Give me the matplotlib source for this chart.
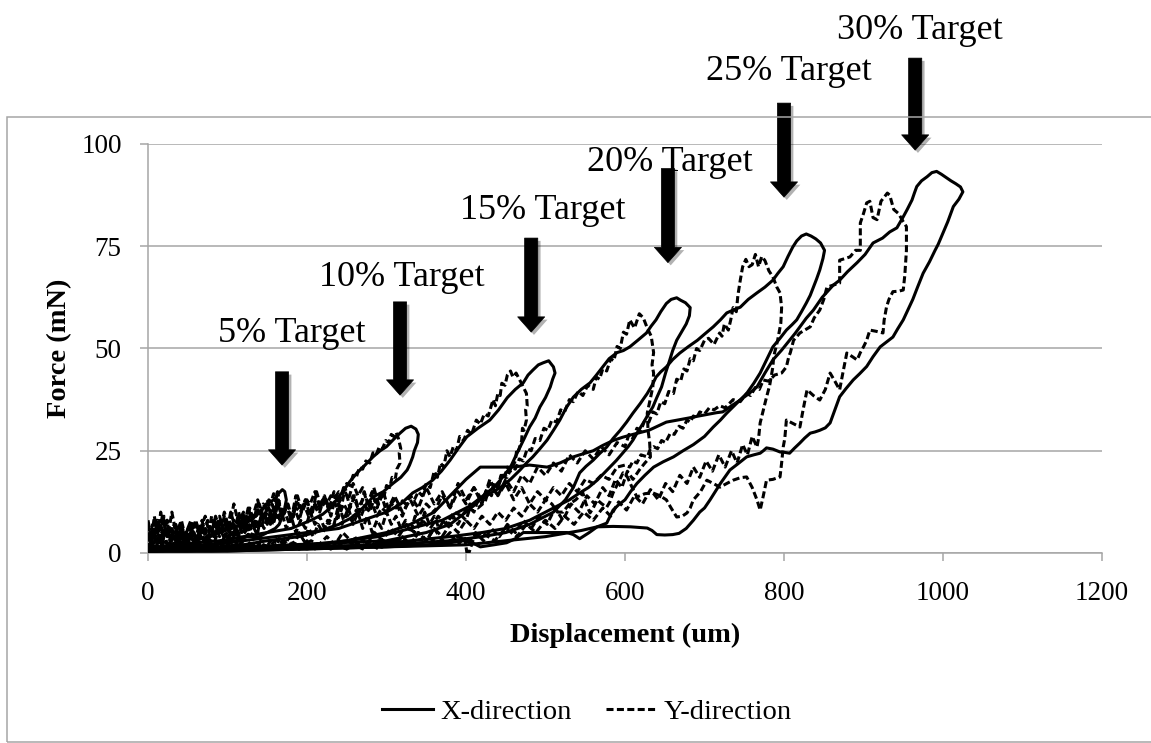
import matplotlib
matplotlib.use("Agg")
import matplotlib.pyplot as plt
import matplotlib.patheffects as pe
from matplotlib.patches import Rectangle

plt.rcParams['font.family'] = ['Liberation Serif', 'DejaVu Serif']

# ---- Force-displacement loops (displacement in um, force in mN) ----
x05_loop = [(0, 2), (15, 3), (30, 2), (45, 4), (60, 3), (75, 4), (90, 5), (105, 6), (118, 7), (130, 8),
            (140, 10), (150, 12), (158, 13), (164, 14.5), (169, 15.5), (172, 15), (174, 13), (172, 11),
            (169, 9), (165, 7), (160, 6), (150, 5), (140, 4), (125, 4), (110, 3), (95, 3), (80, 2),
            (60, 2), (40, 1.5), (20, 1), (0, 1)]

y05_loop = [(0, 7), (4, 3), (8, 9), (12, 4), (16, 10), (20, 5), (24, 8), (28, 3), (33, 7), (38, 2),
            (43, 6), (48, 3), (53, 7), (58, 2), (63, 5), (68, 8), (73, 3), (78, 6), (83, 4), (88, 7),
            (93, 5), (98, 8), (103, 4), (108, 7), (113, 5), (118, 9), (123, 6), (128, 9), (133, 7),
            (137, 11), (141, 9), (145, 12), (149, 11), (152, 13), (155, 12.5), (158, 14.5), (161, 14),
            (163, 15), (165, 13), (164, 11), (162, 12), (160, 9), (157, 10), (154, 7), (150, 9),
            (146, 6), (141, 8), (136, 5), (131, 7), (126, 4), (121, 6), (116, 3), (110, 5), (104, 2),
            (98, 5), (92, 2), (86, 4), (80, 1), (74, 3), (68, 1), (62, 3), (56, 1), (50, 3), (44, 1),
            (38, 3), (32, 1), (26, 2), (20, 1), (14, 3), (8, 1), (4, 2), (0, 1)]

x10_loop = [(0, 1), (30, 2), (60, 2.5), (90, 3), (120, 4), (150, 5), (180, 6), (205, 8), (220, 9.5),
            (229, 11), (237, 13), (245, 15), (254, 17.5), (263, 19.6), (273, 21.5), (283, 23.5),
            (292, 25), (300, 26), (309, 27.8), (317, 29.3), (324, 30.5), (331, 31), (337, 30.3),
            (340, 29), (339, 27), (335, 25), (333, 23.5), (329, 21.5), (326, 20.3), (318, 18.5),
            (308, 17), (296, 15), (283, 13.7), (270, 11), (255, 8.5), (240, 7), (225, 6), (210, 5),
            (190, 4), (170, 3.5), (150, 3), (120, 2), (90, 1.5), (60, 1), (30, 1), (0, 0.5)]

y10_loop = [(0, 5), (5, 2), (10, 8), (15, 3), (20, 6), (25, 1), (30, 4), (35, 7), (40, 3), (45, 5),
            (50, 2), (55, 6), (60, 4), (65, 7), (70, 3), (75, 8), (80, 5), (85, 9), (90, 6), (95, 4),
            (100, 7), (106, 3), (112, 8), (118, 5), (124, 9), (130, 4), (136, 8), (142, 6), (148, 10),
            (154, 7), (160, 11), (166, 8), (172, 10), (178, 7), (184, 11), (190, 8), (196, 12),
            (202, 9), (208, 12), (214, 10), (220, 13), (225, 12), (230, 14), (235, 13.5), (240, 15),
            (245, 14.5), (250, 17), (254, 16.5), (258, 19), (262, 18.5), (266, 21), (270, 20.5),
            (274, 22.5), (279, 22), (283, 24.5), (287, 24), (291, 26), (295, 25.5), (299, 27.5),
            (303, 27), (306, 29), (309, 28.5), (312, 29.5), (315, 28), (318, 25.5), (316, 24.5),
            (317, 22), (313, 20.5), (311, 18), (307, 18.5), (304, 16), (300, 16.5), (297, 14),
            (293, 15), (289, 12), (284, 13), (279, 10), (273, 11.5), (268, 9), (262, 10.5), (256, 8),
            (250, 9.5), (244, 7), (238, 9), (232, 6), (226, 8), (220, 5), (214, 7), (208, 4),
            (202, 6), (196, 3), (190, 5), (184, 2), (178, 4), (172, 2), (166, 4), (160, 1), (154, 3),
            (148, 1), (142, 3), (136, 1), (130, 3), (122, 1), (114, 3), (106, 1), (98, 3), (90, 1),
            (82, 3), (74, 1), (66, 2), (58, 1), (50, 3), (42, 1), (34, 2), (26, 1), (18, 2), (10, 1),
            (0, 0.5)]

x15_loop = [(0, 1), (40, 1.5), (80, 2), (120, 3), (160, 4), (200, 5), (240, 6), (270, 8), (300, 10),
            (318, 12), (333, 14.7), (345, 16), (358, 17.8), (369, 20), (380, 22.7), (390, 25.5),
            (401, 28.4), (415, 30.5), (430, 32.5), (441, 35), (452, 38), (462, 40), (472, 41.6),
            (478, 43.5), (484, 44.7), (491, 46), (497, 46.5), (504, 47), (510, 45.5), (512, 44),
            (509, 42.5), (506, 40.6), (500, 38), (493, 35.7), (487, 33), (480, 30.8), (474, 28.3),
            (468, 25.9), (462, 23.5), (456, 21), (450, 19.5), (443, 17.8), (435, 16), (426, 14.7),
            (415, 13), (405, 11.5), (390, 10), (370, 8), (350, 7), (320, 5.5), (290, 4), (250, 3),
            (200, 2), (150, 1.5), (100, 1), (50, 0.5), (0, 0.5)]

y15_loop = [(0, 4), (6, 1), (12, 6), (18, 2), (24, 8), (30, 3), (36, 6), (42, 2), (48, 5), (54, 8),
            (60, 3), (66, 6), (72, 2), (78, 7), (84, 4), (90, 9), (96, 5), (102, 8), (108, 4),
            (114, 10), (120, 6), (126, 11), (132, 7), (138, 12), (144, 8), (150, 13), (156, 9),
            (162, 14), (168, 10), (174, 12), (180, 9), (186, 11), (192, 10), (198, 13), (204, 12),
            (210, 15), (216, 11), (222, 14), (228, 10), (234, 13), (240, 9), (246, 12), (252, 10),
            (258, 14), (264, 11), (270, 13), (276, 10), (282, 12), (288, 9), (294, 11), (300, 10),
            (306, 12), (312, 11), (318, 13), (324, 12), (330, 14), (335, 13), (340, 15), (345, 14),
            (350, 17), (355, 16), (360, 20), (364, 18.5), (368, 22), (372, 21), (376, 25),
            (380, 23.5), (384, 26), (388, 25), (392, 28.5), (397, 27.5), (402, 30), (407, 29),
            (413, 32.5), (418, 31.5), (423, 34), (428, 33.5), (434, 37.5), (437, 36), (440, 39),
            (443, 38.5), (445, 41.5), (449, 41), (452, 43.5), (456, 44.5), (459, 43), (463, 44),
            (467, 42.5), (471, 41), (476, 39), (477, 36), (475, 35), (476, 32.5), (473, 30),
            (471, 30.5), (470, 27.5), (466, 25), (464, 25.5), (462, 22.5), (456, 20), (452, 21),
            (448, 18), (444, 19), (440, 16), (436, 17), (432, 14), (428, 15), (424, 12.5), (415, 11),
            (405, 12), (395, 9), (385, 10), (375, 7), (365, 9), (355, 6), (345, 8), (335, 5),
            (325, 7), (315, 4), (305, 6), (295, 3), (285, 5), (275, 2), (265, 4), (255, 3),
            (245, 5), (235, 2), (225, 4), (215, 2), (205, 3), (190, 1), (175, 3), (160, 1), (145, 2),
            (130, 1), (115, 2), (100, 1), (80, 2), (60, 1), (40, 2), (20, 1), (0, 1)]

x20_loop = [(0, 0.5), (60, 1), (120, 1.5), (180, 2), (240, 2.5), (300, 3), (350, 5), (380, 7),
            (400, 10), (418, 13), (430, 14.5), (443, 16), (456, 18), (468, 20.3), (476, 22),
            (484, 23.5), (493, 25.5), (502, 27.6), (510, 30), (518, 32.5), (526, 35.5), (535, 38.1),
            (545, 40), (556, 41.6), (564, 43.5), (572, 45.5), (580, 47.5), (590, 49), (598, 49.5),
            (606, 50.4), (616, 52), (627, 53.8), (633, 55.5), (639, 57), (645, 59), (652, 61),
            (658, 62), (665, 62.4), (670, 61.8), (676, 61.2), (682, 60), (681, 58), (677, 56),
            (671, 54), (665, 52), (660, 49.5), (656, 47), (651, 44), (646, 40.6), (640, 38),
            (635, 35.7), (629, 33.8), (623, 31.8), (616, 29.6), (610, 27.6), (604, 26), (597, 24.4),
            (589, 22.6), (581, 21), (573, 19.4), (565, 17.8), (554, 16), (543, 14.7), (530, 13),
            (520, 12), (500, 10), (480, 8), (450, 6), (420, 5), (380, 4), (330, 3), (280, 2),
            (220, 1.5), (150, 1), (80, 0.5), (0, 0.5)]

y20_loop = [(0, 3), (6, 7), (12, 2), (18, 9), (24, 4), (30, 6), (36, 2), (42, 7), (48, 3), (54, 5),
            (60, 8), (66, 4), (72, 6), (78, 3), (84, 7), (90, 4), (96, 9), (102, 5), (108, 8),
            (114, 4), (120, 10), (126, 6), (132, 9), (138, 5), (144, 11), (150, 7), (156, 12),
            (162, 8), (168, 10), (174, 6), (180, 9), (186, 5), (192, 8), (198, 6), (204, 10),
            (210, 7), (216, 9), (222, 6), (228, 8), (234, 7), (240, 12), (246, 8), (252, 11),
            (258, 7), (264, 10), (270, 6), (276, 9), (282, 5), (288, 8), (294, 6), (300, 10),
            (306, 7), (312, 9), (318, 6), (324, 8), (330, 5), (336, 9), (342, 6), (348, 10), (354, 7),
            (360, 9), (366, 6), (372, 8), (378, 7), (384, 9), (390, 7), (395, 9), (400, 8),
            (405, 11), (410, 10), (415, 13), (420, 12.5), (425, 15), (430, 14.5), (436, 17),
            (441, 16.5), (446, 19), (452, 18.5), (457, 21), (462, 20.5), (467, 23), (472, 22.5),
            (477, 25.5), (482, 25), (487, 28), (493, 27.5), (498, 30.5), (503, 30), (508, 32.5),
            (514, 32), (519, 35), (524, 34.5), (530, 37.5), (535, 37), (541, 39.5), (547, 38.5),
            (553, 41), (560, 40), (564, 43), (568, 42.5), (572, 45), (577, 44.5), (582, 47.5),
            (586, 47), (590, 50.5), (594, 50), (598, 54), (602, 53.5), (606, 57), (612, 55),
            (618, 58.5), (623, 57.5), (628, 55), (633, 53), (636, 49), (634, 46), (636, 44),
            (635, 40.6), (631, 37), (628, 34.2), (629, 30), (631, 27), (632, 23.5), (625, 22),
            (618, 20.3), (610, 18), (603, 20), (596, 16), (588, 18), (580, 14), (572, 16), (562, 12),
            (552, 14), (542, 10), (532, 12), (522, 8), (512, 11), (502, 7), (492, 9), (482, 6),
            (472, 8), (462, 5), (452, 7), (442, 4), (432, 6), (422, 3), (412, 5), (402, -1),
            (398, 4), (390, 2), (380, 5), (370, 3), (360, 6), (350, 3), (340, 5), (330, 2), (320, 4),
            (305, 2), (290, 3), (270, 1), (250, 3), (230, 1), (210, 2), (190, 1), (170, 3), (150, 1),
            (120, 2), (90, 1), (60, 2), (30, 1), (0, 2)]

x25_loop = [(0, 0.5), (100, 1), (200, 1.5), (300, 2), (380, 3), (420, 4), (450, 5), (480, 7),
            (510, 10), (525, 13), (535, 16), (543, 19.6), (551, 21.2), (560, 22.7), (568, 24.3),
            (577, 25.9), (585, 28), (594, 30), (602, 32), (610, 34.2), (619, 36.5), (628, 39),
            (634, 41), (639, 43), (645, 44.3), (652, 45.5), (660, 47.3), (669, 48.9), (680, 50.5),
            (691, 52), (700, 53.5), (711, 55.3), (720, 57), (728, 58.7), (736, 59.4), (745, 60.1),
            (755, 62), (766, 63.6), (776, 65), (786, 66.7), (792, 68.3), (799, 70), (805, 72.5),
            (811, 74.8), (816, 76.3), (822, 77.5), (828, 78), (834, 77.5), (840, 76.8), (846, 75.8),
            (851, 74), (849, 72), (845, 69.2), (841, 67), (837, 65), (833, 63), (828, 61.1),
            (822, 59), (816, 57), (810, 55.8), (803, 54.5), (795, 52.5), (786, 50.4), (778, 47.2),
            (770, 44), (762, 41.5), (753, 39), (740, 36.5), (728, 34.2), (720, 32.5), (711, 30.8),
            (700, 28.5), (686, 26.5), (673, 25), (661, 23.5), (648, 22.3), (636, 21), (625, 19),
            (615, 17), (607, 15), (600, 13), (592, 11.8), (585, 10.5), (577, 7.3), (565, 6.4),
            (545, 5.5), (530, 5), (500, 4), (450, 3), (400, 2), (300, 1.5), (200, 1), (100, 0.5),
            (0, 0.5)]

y25_loop = [(0, 5), (6, 2), (12, 8), (18, 3), (24, 6), (30, 1), (36, 5), (42, 8), (48, 3), (54, 7),
            (60, 2), (66, 6), (72, 9), (78, 4), (84, 8), (90, 5), (96, 10), (102, 6), (108, 12),
            (114, 7), (120, 10), (126, 5), (132, 9), (138, 13), (144, 8), (150, 11), (156, 7),
            (162, 13), (168, 9), (174, 12), (180, 8), (186, 14), (192, 10), (198, 13), (204, 9),
            (210, 12), (216, 10), (222, 14), (228, 11), (234, 15), (240, 12), (246, 16), (252, 13),
            (258, 17), (264, 14), (270, 16), (276, 12), (282, 15), (288, 11), (294, 14), (300, 10),
            (310, 14), (320, 10), (330, 13), (340, 9), (350, 12), (360, 10), (370, 14), (380, 11),
            (390, 15), (400, 12), (410, 16), (420, 13), (430, 17), (440, 14), (450, 18), (460, 15),
            (470, 19), (480, 17), (490, 21), (500, 19), (510, 22), (520, 20), (530, 24), (540, 22),
            (550, 25), (560, 23), (570, 26), (580, 24), (590, 27), (600, 26), (605, 29), (610, 28),
            (615, 30.5), (620, 30), (625, 32.5), (630, 32), (635, 34.5), (640, 34), (645, 37),
            (650, 36.5), (655, 39.5), (661, 39), (665, 42.5), (670, 42), (674, 45), (678, 44.5),
            (682, 47.5), (686, 47), (690, 50), (694, 49.5), (700, 52), (705, 52.5), (712, 51),
            (719, 53.8), (722, 53), (725, 56), (730, 54.5), (733, 57), (736, 60), (740, 59),
            (742, 63), (745, 66.7), (748, 70), (752, 71.8), (756, 70), (760, 70.5), (764, 73),
            (768, 70), (772, 72.5), (776, 71.5), (781, 69), (786, 67.5), (791, 65), (795, 63.6),
            (797, 60), (796, 56.2), (792, 52), (787, 48), (786, 45.5), (782, 41), (778, 38.1),
            (774, 35), (770, 31.8), (768, 28), (766, 25.9), (760, 28.5), (754, 24), (748, 26.5),
            (741, 22), (734, 25), (726, 21), (718, 24), (710, 20), (702, 22.5), (694, 18.5),
            (686, 21), (678, 17), (669, 19), (660, 15), (651, 17), (642, 13), (632, 15.5), (622, 12),
            (612, 14), (602, 10.5), (592, 12.5), (582, 9), (572, 11), (560, 8), (548, 10), (536, 7),
            (524, 9), (512, 6), (500, 8), (488, 5), (476, 7), (464, 4), (450, 6), (436, 3), (420, 5),
            (405, 3), (390, 4), (370, 2), (350, 4), (330, 2), (310, 3), (290, 1), (270, 3), (250, 1),
            (230, 2), (200, 1), (170, 2), (140, 1), (110, 2), (80, 1), (50, 2), (20, 1), (0, 1)]

x30_loop = [(0, 0.5), (100, 1), (200, 1.5), (250, 3), (300, 5), (330, 7), (360, 10), (380, 14),
            (400, 18), (418, 21), (440, 21), (459, 21), (480, 21.5), (502, 21), (518, 22),
            (535, 23.5), (548, 24.3), (560, 25), (572, 26.3), (585, 27.5), (597, 28.3), (610, 29),
            (620, 29.5), (630, 30), (641, 31), (652, 32), (666, 32.5), (680, 33), (693, 33.5),
            (707, 34), (715, 34.3), (723, 34.5), (734, 36), (745, 37.4), (756, 39), (766, 40.6),
            (776, 44), (786, 47.2), (797, 49.6), (807, 52), (814, 53.7), (820, 55.3), (828, 57.4),
            (837, 59.4), (848, 62.5), (856, 64.2), (862, 65.5), (870, 66.7), (880, 68.8), (892, 71),
            (902, 73), (912, 75.8), (924, 77), (933, 78.5), (942, 79.5), (950, 82.2), (955, 84),
            (961, 86.3), (964, 88), (967, 89.6), (973, 91), (980, 92), (986, 93), (992, 93.3),
            (998, 92.6), (1004, 91.8), (1010, 91), (1016, 90.3), (1022, 89.5), (1025, 88.3),
            (1020, 86.5), (1013, 84.7), (1006, 81), (998, 77.3), (994, 75.5), (990, 74),
            (983, 71.2), (975, 68.4), (968, 65), (962, 62), (956, 59.5), (950, 57), (943, 54.8),
            (937, 52.8), (929, 51.6), (921, 50.4), (912, 48), (904, 45.6), (895, 43.8), (887, 42.3),
            (878, 40.2), (870, 38.2), (864, 35), (858, 31.8), (852, 30.6), (845, 30), (839, 29.6),
            (833, 29.3), (826, 28.1), (820, 26.9), (813, 25.6), (807, 24.4), (801, 24.6), (795, 24.7),
            (786, 25.4), (778, 25.7), (774, 25), (770, 24.4), (762, 24), (753, 23.5), (742, 21.8),
            (732, 20.3), (720, 17), (707, 13), (700, 11), (694, 10), (686, 8), (677, 6), (668, 4.8),
            (660, 4.5), (650, 4.4), (640, 4.5), (634, 5.5), (628, 6.1), (607, 6.4), (585, 6.5),
            (565, 6.4), (555, 5), (543, 3.5), (535, 4.5), (527, 5), (500, 5), (472, 5), (462, 3.5),
            (451, 2.5), (435, 2), (418, 1.5), (408, 2.5), (397, 3), (380, 2.5), (350, 2), (300, 1.5),
            (200, 1), (100, 0.5), (0, 0.5)]

y30_loop = [(0, 8), (5, 3), (10, 6), (15, 2), (20, 9), (25, 4), (30, 10), (35, 5), (40, 7), (45, 2),
            (50, 6), (55, 3), (60, 8), (65, 4), (70, 7), (75, 3), (80, 9), (86, 5), (92, 8), (98, 4),
            (104, 10), (110, 6), (116, 9), (122, 5), (128, 11), (134, 7), (140, 12), (146, 8),
            (152, 11), (158, 7), (164, 13), (170, 9), (176, 12), (182, 8), (188, 14), (194, 10),
            (200, 13), (206, 9), (212, 15), (218, 11), (224, 13), (230, 9), (236, 14), (242, 10),
            (248, 16), (254, 11), (260, 14), (266, 10), (272, 15), (278, 11), (284, 16), (290, 12),
            (296, 15), (302, 11), (310, 13), (320, 9), (330, 14), (340, 11), (350, 16), (360, 12),
            (370, 15), (380, 11), (390, 17), (400, 13), (410, 16), (420, 12), (430, 18), (440, 14),
            (450, 17), (460, 13), (470, 16), (480, 12), (490, 15), (500, 13), (510, 16), (520, 14),
            (530, 17), (540, 15), (550, 18), (560, 17), (570, 19), (580, 18), (590, 21), (600, 21.5),
            (606, 21), (610, 22.5), (615, 22), (620, 24), (628, 23.5), (632, 25.5), (636, 26),
            (641, 25.5), (646, 27.5), (651, 27), (657, 29.3), (662, 29), (668, 31), (673, 30.5),
            (678, 32.5), (682, 32), (686, 33.5), (690, 33), (694, 34.5), (700, 34), (706, 35.5),
            (712, 35), (719, 36), (726, 35.5), (736, 37.5), (745, 37), (753, 39), (758, 38.5),
            (764, 40.5), (769, 40), (774, 42.3), (781, 42), (788, 43.5), (797, 44), (803, 45.5),
            (806, 48), (808, 49), (812, 52), (820, 53.8), (826, 54.5), (833, 55.3), (838, 57.5),
            (845, 59.4), (850, 62), (854, 65), (862, 65.5), (870, 66), (870, 71.6), (877, 72),
            (883, 72.4), (890, 74), (896, 74), (896, 80.7), (900, 83), (904, 85.6), (908, 86),
            (912, 82), (917, 81.5), (922, 86), (926, 87), (930, 88), (933, 87.5), (938, 84),
            (944, 83), (950, 81), (954, 79.8), (954, 74), (952, 68), (950, 64.3), (944, 64),
            (937, 63.9), (932, 62), (929, 60.2), (926, 57), (924.5, 53.8), (916, 54.2), (908, 54.5),
            (904, 52), (900, 50.4), (896, 49), (892, 47.2), (886, 48), (879, 48.9), (874, 44),
            (870, 39.9), (864, 42), (858, 44), (852, 40), (845, 37.4), (837, 38.5), (829, 39.9),
            (824, 35), (820, 30.8), (812, 31.6), (803, 32.5), (801, 28), (799, 25.9), (797, 22),
            (795, 18.6), (786, 18), (778, 17.8), (774, 14), (770, 10.5), (766, 13), (760, 16),
            (753, 18.6), (745, 18.4), (736, 17.8), (728, 17), (719.5, 16.1), (711, 17), (703, 17.8),
            (695, 15), (686, 13), (682, 11), (678, 9.8), (672, 9), (665, 8.8), (658, 11), (652, 13),
            (644, 14), (635, 14.7), (625, 14.5), (615, 13.7), (609, 16), (603, 18.6), (597.5, 19.6),
            (591, 17), (585, 14.7), (581, 12.5), (577, 11.2), (571, 12), (565, 13), (560, 11),
            (556, 9.8), (551, 12), (547, 14.7), (538, 13), (530, 12), (522, 10), (515, 10), (508, 12),
            (500, 13), (490, 10), (480, 12), (470, 9), (460, 11), (450, 8), (440, 10), (430, 7),
            (420, 9), (410, 6), (400, 8), (390, 5), (380, 7), (370, 4), (360, 6), (350, 3), (340, 5),
            (330, 2), (320, 4), (310, 2), (300, 3), (290, 1), (280, 3), (270, 1), (260, 3), (250, 1),
            (240, 3), (230, 1), (220, 2), (210, 1), (200, 3), (190, 1), (180, 2), (170, 1), (160, 3),
            (150, 1), (140, 2), (130, 1), (120, 3), (110, 1), (100, 2), (90, 1), (80, 3), (70, 1),
            (60, 2), (50, 1), (40, 3), (30, 1), (20, 2), (10, 1), (0, 2)]

x_direction_loops = [x05_loop, x10_loop, x15_loop, x20_loop, x25_loop, x30_loop]
y_direction_loops = [y05_loop, y10_loop, y15_loop, y20_loop, y25_loop, y30_loop]

# ---- Target annotations: label, arrow x, arrow top, arrow tip, label x, label baseline ----
target_labels = ['5% Target', '10% Target', '15% Target', '20% Target', '25% Target', '30% Target']
arrow_x = [168.6, 317, 482, 654, 800, 965]
arrow_top = [44.3, 61.4, 77, 94, 110, 121]
arrow_tip = [21.5, 38.6, 54, 71, 87, 98.5]
label_x = [181, 319.5, 497, 656.6, 806, 971]
label_y = [51.6, 65.3, 81.7, 93.4, 115.6, 125.7]

x_ticks = [0, 200, 400, 600, 800, 1000, 1200]
y_ticks = [0, 25, 50, 75, 100]

W, H = 1151, 743
fig = plt.figure(figsize=(W / 100, H / 100), dpi=100)
ax = fig.add_axes([148 / W, 190 / H, 954 / W, 409 / H])

grey = '#a6a6a6'
line_w = 2.2
dash_style = (0, (2.3, 1.1))

# outer chart frame
fig.add_artist(Rectangle((7.5 / W, 1 / H), 1.0, 625 / H, transform=fig.transFigure,
                         fill=False, ec=grey, lw=1.1))

for loop in y_direction_loops:
    d, f = zip(*loop)
    ax.plot(d, f, color='black', lw=line_w, linestyle=dash_style, dash_joinstyle='round',
            dash_capstyle='butt', zorder=3)
for loop in x_direction_loops:
    d, f = zip(*loop)
    ax.plot(d, f, color='black', lw=line_w, linestyle='-', solid_joinstyle='round', zorder=4)

ax.set_xlim(0, 1200)
ax.set_ylim(0, 100)
ax.set_xticks(x_ticks)
ax.set_yticks(y_ticks)
ax.grid(axis='y', color=grey, lw=1.1)
ax.set_axisbelow(True)
for side in ('top', 'right'):
    ax.spines[side].set_visible(False)
for side in ('left', 'bottom'):
    ax.spines[side].set_color(grey)
    ax.spines[side].set_linewidth(1.1)
ax.tick_params(axis='both', direction='out', length=6, width=1.1, color=grey,
               labelsize=19.5)
ax.tick_params(axis='y', pad=13)
ax.tick_params(axis='x', pad=14)

ax.set_xlabel('Displacement (um)', fontsize=20.5, fontweight='bold')
ax.set_ylabel('Force (mN)', fontsize=20.5, fontweight='bold')
ax.xaxis.set_label_coords(0.5, -0.17)
ax.yaxis.set_label_coords(-0.08, 0.5)

# target arrows and labels
for lab, ax_x, top, tip, lx, ly in zip(target_labels, arrow_x, arrow_top, arrow_tip,
                                      label_x, label_y):
    ax.annotate('', xy=(ax_x, tip), xytext=(ax_x, top), annotation_clip=False,
                arrowprops=dict(arrowstyle='simple,head_width=1.95,head_length=1.1,tail_width=0.95',
                                mutation_scale=10, fc='black', ec='black', lw=0.5,
                                shrinkA=0, shrinkB=0,
                                path_effects=[pe.SimplePatchShadow(offset=(2, -2), alpha=0.3),
                                              pe.Normal()]),
                zorder=6)
    ax.text(lx, ly, lab, fontsize=26, ha='center', va='baseline', clip_on=False, zorder=6)

legend_handles = [plt.Line2D([], [], color='black', lw=line_w),
                  plt.Line2D([], [], color='black', lw=line_w, linestyle=dash_style)]
fig.legend(legend_handles, ['X-direction', 'Y-direction'], loc='center',
           bbox_to_anchor=(587 / W, 1 - 712 / H), ncol=2, frameon=False, fontsize=20.5,
           handlelength=1.8, handletextpad=0.25, columnspacing=1.2)

fig.savefig('out.png', dpi=100)
